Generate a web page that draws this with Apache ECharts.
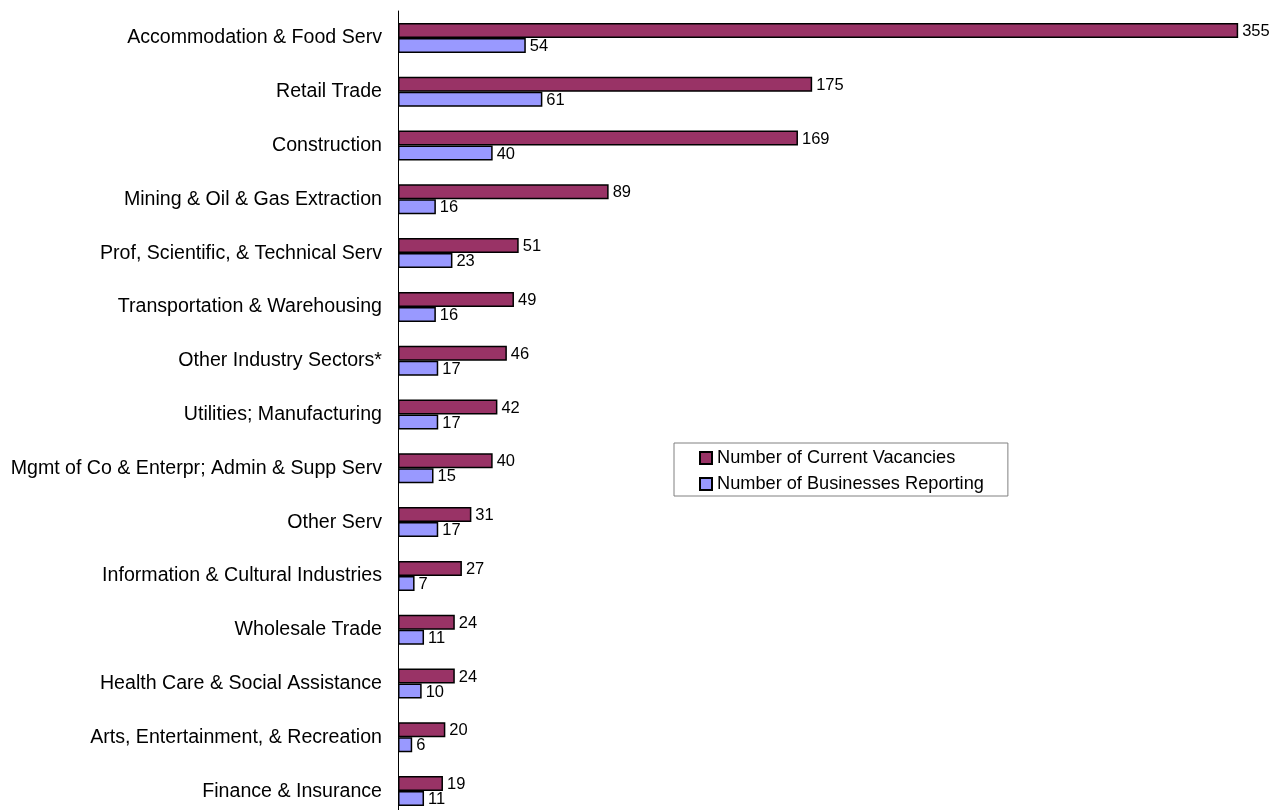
<!DOCTYPE html>
<html>
<head>
<meta charset="utf-8">
<script src="https://cdn.jsdelivr.net/npm/echarts@6/dist/echarts.min.js"></script>
<style>html,body{margin:0;padding:0;background:#fff;overflow:hidden}#chart{width:1273px;height:830px}</style>
</head>
<body>
<div id="chart"></div>
<script>
const categories = [
  "Accommodation & Food Serv",
  "Retail Trade",
  "Construction",
  "Mining & Oil & Gas Extraction",
  "Prof, Scientific, & Technical Serv",
  "Transportation & Warehousing",
  "Other Industry Sectors*",
  "Utilities; Manufacturing",
  "Mgmt of Co & Enterpr; Admin & Supp Serv",
  "Other Serv",
  "Information & Cultural Industries",
  "Wholesale Trade",
  "Health Care & Social Assistance",
  "Arts, Entertainment, & Recreation",
  "Finance & Insurance"
];
const vacancies = [355, 175, 169, 89, 51, 49, 46, 42, 40, 31, 27, 24, 24, 20, 19];
const businesses = [54, 61, 40, 16, 23, 16, 17, 17, 15, 17, 7, 11, 10, 6, 11];
const seriesNames = ["Number of Current Vacancies", "Number of Businesses Reporting"];

const font = "Liberation Sans, Arial, sans-serif";
const chart = echarts.init(document.getElementById('chart'));
const labelCfg = {show: true, position: 'right', distance: 4, offset: [0, 1], color: '#000', fontSize: 16.5, fontFamily: font};
chart.setOption({
  animation: false,
  backgroundColor: '#fff',
  grid: {left: 398, top: 11, width: 852, height: 807, containLabel: false},
  legend: {
    orient: 'vertical', left: 674, top: 443,
    data: seriesNames,
    borderColor: '#808080', borderWidth: 1,
    padding: [6, 24, 3, 25],
    itemWidth: 12, itemHeight: 12, itemGap: 8,
    textStyle: {fontSize: 18.2, fontFamily: font, color: '#000', padding: [0, 0, 0, 0]},
    icon: 'rect'
  },
  xAxis: {type: 'value', min: 0, max: 360, show: false},
  yAxis: {
    type: 'category', data: categories, inverse: true,
    axisLine: {show: true, lineStyle: {color: '#000', width: 1}},
    axisTick: {show: false},
    axisLabel: {color: '#000', fontSize: 19.6, fontFamily: font, margin: 16, padding: [4, 0, 0, 0]}
  },
  series: [
    {name: seriesNames[0], type: 'bar', data: vacancies, barWidth: 15, barGap: '0%',
     itemStyle: {color: '#993366', borderColor: '#000', borderWidth: 1.5},
     label: labelCfg},
    {name: seriesNames[1], type: 'bar', data: businesses, barWidth: 15, barGap: '0%',
     itemStyle: {color: '#9999FF', borderColor: '#000', borderWidth: 1.5},
     label: labelCfg}
  ]
});
</script>
</body>
</html>
